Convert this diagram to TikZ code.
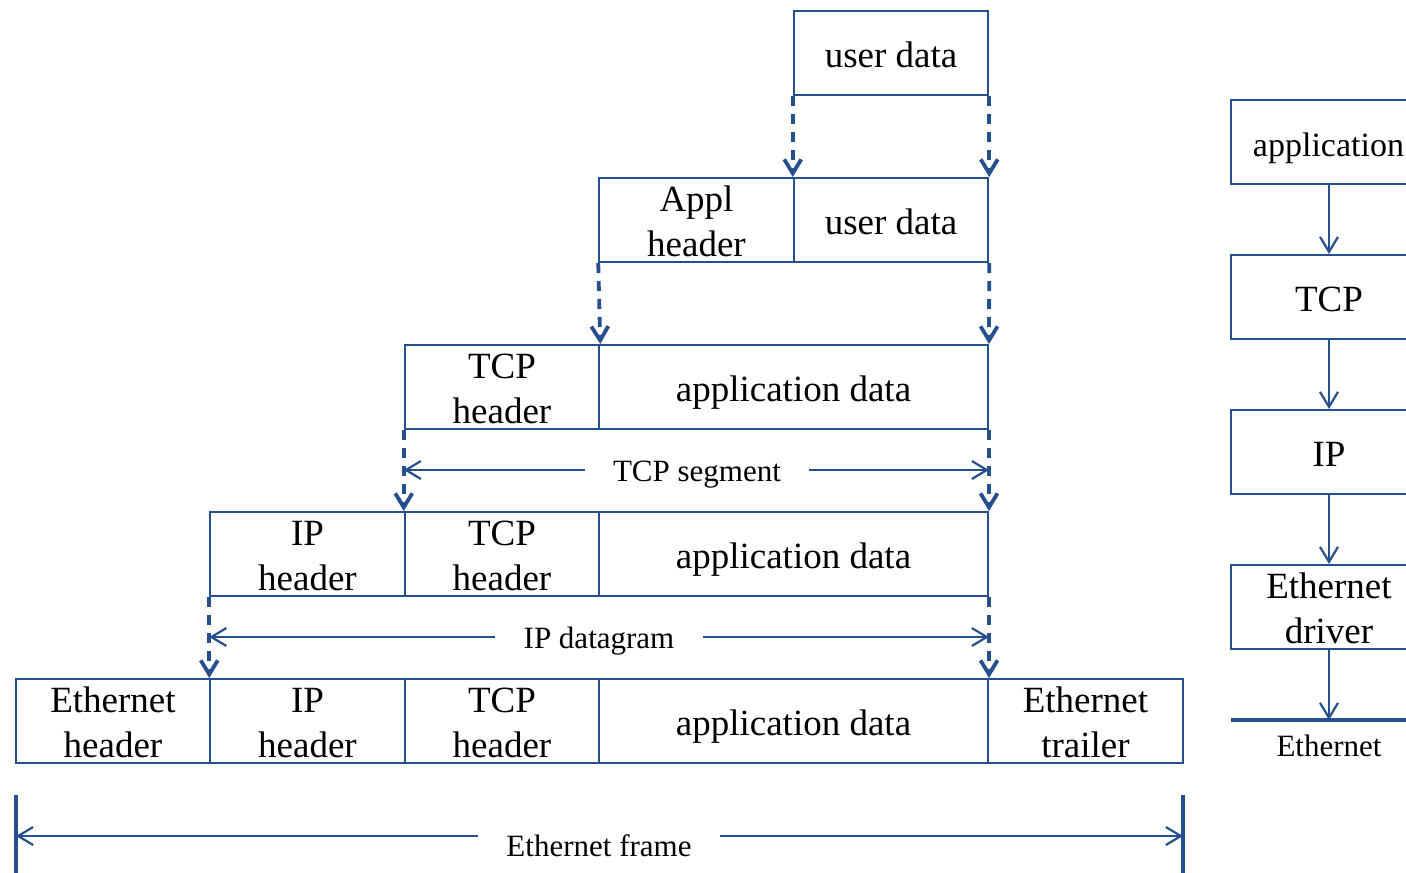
\documentclass[tikz,border=0pt]{standalone}
\usepackage{fontspec}
\setmainfont{Liberation Serif}
\usetikzlibrary{arrows.meta,calc}
\definecolor{lc}{RGB}{38,79,142}
\newcommand\tl{\rule{0pt}{29pt}}
\tikzset{
  box/.style={draw=lc, line width=2pt, minimum height=84pt, minimum width=194.5pt,
    inner sep=0pt, align=center, font=\fontsize{37}{45}\selectfont, text=black},
  one/.style={text height=28pt, text depth=0pt},
  sbox/.style={box, minimum width=196pt},
  dasharrow/.style={draw=lc, line width=3.8pt, dash pattern=on 10pt off 8pt,
    -{Straight Barb[length=14pt,width=17pt,line width=3.8pt]}},
  dimarrow/.style={draw=lc, line width=2.2pt, -{Straight Barb[length=15pt,width=18pt,line width=2.2pt]}},
  lbl/.style={font=\fontsize{31}{36}\selectfont, inner xsep=28pt, inner ysep=0pt,
    text height=22pt, text depth=0pt, text=black},
  bar/.style={draw=lc, line width=3.5pt},
  downarrow/.style={dimarrow}
}
\begin{document}
\begin{tikzpicture}[x=1pt,y=-1pt]
\useasboundingbox (0,0) rectangle (1406,873);
% row 1
\node[box, one] (u1) at (891,53) {user data};
% row 2
\node[box] (a2) at (696.5,220) {\tl Appl\\header};
\node[box, one] (u2) at (891,220) {user data};
% row 3
\node[box] (t3) at (502,387) {\tl TCP\\header};
\node[box, one, minimum width=389pt] (d3) at (793.5,387) {application data};
% row 4
\node[box] (i4) at (307.5,554) {\tl IP\\header};
\node[box] (t4) at (502,554) {\tl TCP\\header};
\node[box, one, minimum width=389pt] (d4) at (793.5,554) {application data};
% row 5
\node[box] (e5) at (113,721) {\tl Ethernet\\header};
\node[box] (i5) at (307.5,721) {\tl IP\\header};
\node[box] (t5) at (502,721) {\tl TCP\\header};
\node[box, one, minimum width=389pt] (d5) at (793.5,721) {application data};
\node[box] (r5) at (1085.5,721) {\tl Ethernet\\trailer};
% dashed arrows
\draw[dasharrow] (u1.south west) -- (u2.north west);
\draw[dasharrow] (u1.south east) -- (u2.north east);
\draw[dasharrow] (a2.south west) -- (t3.north east);
\draw[dasharrow] (u2.south east) -- (d3.north east);
\draw[dasharrow] (t3.south west) -- (t4.north west);
\draw[dasharrow] (d3.south east) -- (d4.north east);
\draw[dasharrow] (i4.south west) -- (i5.north west);
\draw[dasharrow] (d4.south east) -- (d5.north east);
% dimension arrows
\node[lbl] (seg) at (697,470) {TCP segment};
\draw[dimarrow] (seg.west) -- (seg.west -| t3.west);
\draw[dimarrow] (seg.east) -- (seg.east -| d3.east);
\node[lbl] (dgm) at (599,637) {IP datagram};
\draw[dimarrow] (dgm.west) -- (dgm.west -| i4.west);
\draw[dimarrow] (dgm.east) -- (dgm.east -| d4.east);
\coordinate (bl1) at (16,795);
\coordinate (bl2) at (16,873);
\coordinate (br1) at (1183,795);
\coordinate (br2) at (1183,873);
\draw[bar] (bl1) -- (bl2);
\draw[bar] (br1) -- (br2);
\node[lbl] (frm) at (599,845) {Ethernet frame};
\coordinate (fy) at (599,836);
\draw[dimarrow] (frm.west |- fy) -- (fy -| bl1);
\draw[dimarrow] (frm.east |- fy) -- (fy -| br1);
% right stack
\node[sbox, one] (sa) at (1329,142) {};
\node[one, font=\fontsize{34}{40}\selectfont, inner sep=0pt] (sat) at (1328.5,142) {application};
\node[sbox, one] (st) at (1329,297) {TCP};
\node[sbox, one] (si) at (1329,452) {IP};
\node[sbox] (se) at (1329,607) {\tl Ethernet\\driver};
\draw[downarrow] (sa.south) -- (st.north);
\draw[downarrow] (st.south) -- (si.north);
\draw[downarrow] (si.south) -- (se.north);
\coordinate (el1) at (1231,720);
\coordinate (el2) at (1430,720);
\draw[draw=lc, line width=4pt] (el1) -- (el2);
\draw[downarrow] (se.south) -- (se.south |- el1);
\node[lbl, inner xsep=0pt] (en) at (1329,745) {Ethernet};
\end{tikzpicture}
\end{document}
